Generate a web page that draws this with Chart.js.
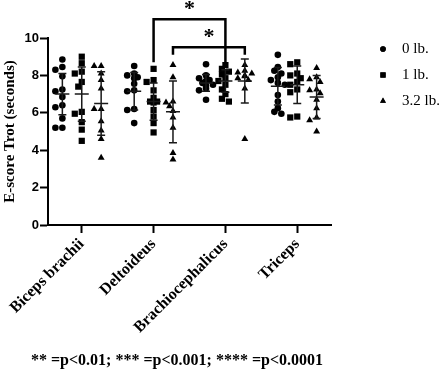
<!DOCTYPE html>
<html lang="en">
<head>
<meta charset="UTF-8" />
<title>E-score Trot</title>
<script src="https://cdn.jsdelivr.net/npm/chart.js"></script>
<style>
  html, body { margin: 0; padding: 0; background: #fff; }
  #wrap { width: 447px; height: 372px; }
</style>
</head>
<body>
<div id="wrap"><canvas id="chart" width="447" height="372"></canvas></div>
<script>
// muscles on the x axis, loads as series
const muscles = ["Biceps brachii", "Deltoideus", "Brachiocephalicus", "Triceps"];
const loads = ["0 lb.", "1 lb.", "3.2 lb."];
const yTicks = [0, 2, 4, 6, 8, 10];

// individual values per muscle
const lb0 = [
  [8.85, 8.45, 8.3, 7.95, 7.25, 7.15, 6.85, 6.4, 6.3, 5.7, 5.2, 5.2],
  [8.5, 8.1, 8.0, 7.9, 7.85, 7.55, 7.2, 7.15, 6.2, 6.15, 5.45],
  [8.6, 8.0, 7.85, 7.75, 7.7, 7.6, 7.5, 7.45, 7.3, 7.2, 6.7],
  [9.1, 8.45, 8.25, 8.1, 7.9, 7.75, 7.6, 7.5, 6.95, 6.6, 6.25, 6.05, 5.95]
];
const lb1 = [
  [9.0, 8.65, 8.2, 8.1, 7.65, 7.4, 6.05, 5.95, 5.5, 5.1, 4.5],
  [8.35, 7.75, 7.65, 7.2, 6.8, 6.6, 6.6, 6.55, 6.15, 5.8, 5.45, 4.95],
  [8.55, 8.35, 8.2, 8.05, 7.85, 7.7, 7.5, 7.25, 7.0, 6.75, 6.6],
  [8.7, 8.6, 8.1, 8.0, 7.85, 7.65, 7.5, 7.25, 7.1, 5.8, 5.75]
];
const lb32 = [
  [8.5, 8.5, 8.1, 7.75, 7.3, 6.2, 6.2, 5.55, 5.05, 4.6, 3.6],
  [8.55, 7.9, 6.6, 6.55, 6.35, 6.1, 5.75, 5.2, 3.85, 3.5],
  [8.55, 8.25, 8.15, 8.1, 8.0, 7.95, 7.85, 7.75, 7.3, 4.6],
  [8.4, 7.9, 7.8, 7.65, 7.25, 7.2, 7.05, 6.7, 6.25, 5.75, 5.6, 5.0]
];

// mean and SD bars as drawn
const mean0 = [7.0, 7.15, 7.6, 7.42];
const sd0 = [1.1, 1.0, 0.45, 1.0];
const mean1 = [7.0, 6.6, 7.7, 7.5];
const sd1 = [1.45, 1.0, 0.6, 1.0];
const mean32 = [6.5, 6.05, 7.7, 6.85];
const sd32 = [1.7, 1.65, 1.18, 1.15];

// significance brackets: [muscle, load] -> [muscle, load]
const sigFrom = [[1, 1], [1, 2]];
const sigTo = [[2, 1], [2, 2]];
const sigTop = [11.0, 9.5];
const sigFoot = [8.7, 9.1];
const sigLabel = ["*", "*"];

const footnote = "** =p<0.01; *** =p<0.001; **** =p<0.0001";

const series = [lb0, lb1, lb32];
const means = [mean0, mean1, mean32];
const sds = [sd0, sd1, sd32];
const styles = ["circle", "rect", "triangle"];
const radii = [3.3, 4.4, 4.0];
const groupShift = [-0.27, 0, 0.27];

// nudge overlapping points sideways a little, like a column scatter
function spread(vals, center) {
  const placed = [];
  return vals.map(v => {
    const steps = [0, -1, 1, -2, 2];
    for (const s of steps) {
      const dx = s * 3.5;
      const free = placed.every(p => Math.hypot(p.dx - dx, (p.v - v) * 18.7) >= 5);
      if (free) {
        placed.push({ dx, v });
        return { x: center + dx / 72, y: v };
      }
    }
    return { x: center, y: v };
  });
}

const datasets = series.map((s, k) => ({
  label: loads[k],
  data: s.flatMap((vals, i) => spread(vals, i + 1 + groupShift[k])),
  pointStyle: styles[k],
  pointRadius: radii[k],
  backgroundColor: "#000",
  borderColor: "#000",
  borderWidth: 0
}));

const extras = {
  id: "extras",
  afterDatasetsDraw(chart) {
    const { ctx, scales: { x, y } } = chart;
    ctx.save();
    ctx.strokeStyle = "#1a1a1a";
    ctx.lineWidth = 1.5;
    means.forEach((m, k) => {
      m.forEach((mv, i) => {
        const px = x.getPixelForValue(i + 1 + groupShift[k]);
        const hi = y.getPixelForValue(mv + sds[k][i]);
        const lo = y.getPixelForValue(mv - sds[k][i]);
        const mid = y.getPixelForValue(mv);
        ctx.beginPath();
        ctx.moveTo(px, hi); ctx.lineTo(px, lo);
        ctx.moveTo(px - 4, hi); ctx.lineTo(px + 4, hi);
        ctx.moveTo(px - 4, lo); ctx.lineTo(px + 4, lo);
        ctx.moveTo(px - 7, mid); ctx.lineTo(px + 7, mid);
        ctx.stroke();
      });
    });
    ctx.restore();
  },
  afterDraw(chart) {
    const { ctx, scales: { x, y } } = chart;
    ctx.save();
    // brackets
    ctx.strokeStyle = "#000";
    ctx.lineWidth = 2.5;
    ctx.fillStyle = "#000";
    ctx.font = "bold 22px 'Liberation Serif'";
    ctx.textAlign = "center";
    ctx.textBaseline = "middle";
    sigFrom.forEach((f, j) => {
      const x1 = x.getPixelForValue(f[0] + 1 + groupShift[f[1]]);
      const x2 = x.getPixelForValue(sigTo[j][0] + 1 + groupShift[sigTo[j][1]]);
      const top = y.getPixelForValue(sigTop[j]);
      const foot = y.getPixelForValue(sigFoot[j]);
      ctx.beginPath();
      ctx.moveTo(x1, foot); ctx.lineTo(x1, top); ctx.lineTo(x2, top); ctx.lineTo(x2, foot);
      ctx.stroke();
      ctx.fillText(sigLabel[j], (x1 + x2) / 2, top - 10);
    });
    // legend
    ctx.font = "15px 'Liberation Serif'";
    ctx.textAlign = "left";
    loads.forEach((l, k) => {
      const ly = 49 + k * 26;
      Chart.helpers.drawPoint(ctx, { pointStyle: styles[k], radius: radii[k] * 0.85, borderWidth: 0 }, 383, ly);
      ctx.fill();
      ctx.fillText(l, 402, ly);
    });
    // footnote
    ctx.font = "bold 16px 'Liberation Serif'";
    ctx.textAlign = "center";
    ctx.fillText(footnote, 177, 361);
    ctx.restore();
  }
};

new Chart(document.getElementById("chart"), {
  type: "scatter",
  data: { datasets },
  options: {
    responsive: false,
    animation: false,
    events: [],
    layout: { padding: { top: 38, right: 116, bottom: 0, left: 0 } },
    plugins: { legend: { display: false }, tooltip: { enabled: false } },
    scales: {
      x: {
        type: "linear",
        min: 0.53,
        max: 4.47,
        afterBuildTicks: s => { s.ticks = muscles.map((m, i) => ({ value: i + 1 })); },
        afterFit: s => { s.height = 147; },
        ticks: {
          autoSkip: false,
          minRotation: 45,
          maxRotation: 45,
          padding: 2,
          color: "#000",
          font: { family: "'Liberation Serif'", size: 16, weight: "bold" },
          callback: v => muscles[v - 1]
        },
        grid: { drawOnChartArea: false, tickLength: 8, tickWidth: 2, tickColor: "#000" },
        border: { color: "#000", width: 2 }
      },
      y: {
        min: 0,
        max: 10,
        afterBuildTicks: s => { s.ticks = yTicks.map(v => ({ value: v })); },
        afterFit: s => { s.width = 48; },
        ticks: {
          padding: 1,
          color: "#000",
          font: { family: "'Liberation Sans'", size: 13, weight: "bold" }
        },
        title: {
          display: true,
          text: "E-score Trot (seconds)",
          color: "#000",
          padding: { top: 1, bottom: 0 },
          font: { family: "'Liberation Serif'", size: 15, weight: "bold" }
        },
        grid: { drawOnChartArea: false, tickLength: 8, tickWidth: 2, tickColor: "#000" },
        border: { color: "#000", width: 2 }
      }
    }
  },
  plugins: [extras]
});
</script>
</body>
</html>
